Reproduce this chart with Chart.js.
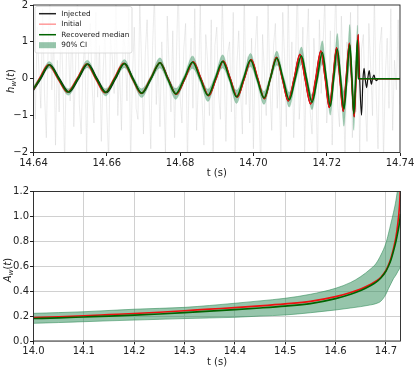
<!DOCTYPE html>
<html>
<head>
<meta charset="utf-8">
<script src="https://cdn.jsdelivr.net/npm/chart.js@4.4.1/dist/chart.umd.min.js"></script>
<style>
  html, body { margin: 0; padding: 0; background: #fff; }
  #wrap { position: relative; width: 415px; height: 368px; }
  canvas { position: absolute; left: 0; }
  #top { top: 0; }
  #bottom { top: 180px; }
</style>
</head>
<body>
<div id="wrap">
  <canvas id="top" width="415" height="180"></canvas>
  <canvas id="bottom" width="415" height="188"></canvas>
</div>
<script>
// ---- top panel: whitened strain h_w(t) ----

// whitened data (gray), one sample every 0.5 ms from 14.640 s
const dataStart = 14.64;
const dataStep = 0.0005;
const dataValues = [
  0.6, -1.1, 1.4, 0.2, -0.8, 1.9, -0.4, -1.6, 0.9, 2.2, -0.3, 1.2, -1.8, 0.5, -0.9, 1.6, 0.1, -2.3, 0.8, 1.1,
  -0.6, 1.7, -1.3, 0.4, 2.4, -0.7, -1.5, 0.3, 1.0, -2.1, 0.7, 1.5, -0.2, -1.2, 1.8, -0.5, 0.9, -1.7, 0.2, 1.3,
  -0.9, -2.2, 1.1, 0.6, -0.4, 2.5, -1.0, 0.3, -1.4, 1.2, 0.8, -0.6, 1.9, -2.4, 0.1, 1.4, -0.8, -1.1, 2.1, 0.4,
  -1.5, 0.7, 1.6, -0.3, -1.9, 0.9, 2.3, -0.7, 0.5, -1.3, 1.0, -0.2, -2.0, 1.7, 0.3, -0.9, 1.3, -1.6, 0.6, 2.6,
  -0.5, -1.2, 0.8, 1.5, -2.3, 0.2, 1.1, -0.8, 1.9, -1.4, -0.1, 2.0, -0.6, -1.8, 1.2, 0.5, -1.0, 1.6, -2.5, 0.9,
  1.4, -0.4, -1.1, 2.2, 0.3, -1.7, 0.7, 1.0, -0.9, 1.8, -2.1, 0.4, 1.3, -0.3, -1.5, 2.4, -0.7, 0.6, -1.2, 1.1,
  -1.9, 0.8, 1.7, -0.5, -2.6, 1.2, 0.2, -1.0, 2.1, -0.2, -1.4, 0.9, 1.5, -0.8, 0.3, -2.2, 1.8, 0.6, -1.3, 2.3,
  -0.6, 1.0, -1.6, 0.4, 2.7, -1.1, -0.3, 1.4, -2.0, 0.7, 1.9, -0.9, -1.5, 1.1, 0.1, -2.4, 1.6, -0.4, 0.9, 2.2,
  -1.2, -0.5, 1.3, -1.8, 0.6, 2.5, -0.7, -1.3, 1.7, 0.2, -2.3, 1.0, -0.1, 1.8, -1.6, 0.5, -0.9, 2.0, -2.1, 0.8,
  1.2, -0.6, -1.7, 1.5, 0.3, -1.0, 2.3, -0.4, -1.9, 0.9, 1.4, -2.2, 0.1, 1.1, -0.8, 1.9, -1.4, 0.5, -0.3, 1.6,
  -0.7
];

// injected waveform (black): extrema and zero crossings, then ringdown
const injected = [
  [14.6400, -0.31], [14.6420, 0], [14.6445, 0.38], [14.6471, 0], [14.6497, -0.36], [14.6523, 0],
  [14.6549, 0.40], [14.6574, 0], [14.6599, -0.38], [14.6624, 0], [14.6649, 0.42], [14.6672, 0],
  [14.6696, -0.40], [14.6721, 0], [14.6746, 0.43], [14.6768, 0], [14.6790, -0.42], [14.6813, 0],
  [14.6836, 0.46], [14.6857, 0], [14.6878, -0.46], [14.6898, 0], [14.6918, 0.48], [14.6937, 0],
  [14.6956, -0.50], [14.6975, 0], [14.6994, 0.52], [14.7012, 0], [14.7030, -0.54], [14.7046, 0],
  [14.7063, 0.58], [14.7079, 0], [14.7095, -0.60], [14.7111, 0], [14.7127, 0.66], [14.7141, 0],
  [14.7156, -0.68], [14.7170, 0], [14.7184, 0.75], [14.7196, 0], [14.7207, -0.78], [14.7217, 0],
  [14.7227, 0.84], [14.7236, 0], [14.7245, -0.88], [14.7253, 0], [14.7262, 0.96], [14.7268, 0],
  [14.7275, -1.03], [14.7280, 0], [14.7286, 1.20], [14.7290, 0], [14.7295, -0.99], [14.7299, 0],
  [14.7302, 0.28], [14.7305, 0], [14.7309, -0.24], [14.7312, 0], [14.7316, 0.22], [14.7319, 0],
  [14.7322, -0.15], [14.7325, 0], [14.7329, 0.10], [14.7332, 0], [14.7336, -0.05], [14.7340, 0],
  [14.7400, 0]
];

// initial guess (red)
const initial = [
  [14.6400, -0.29], [14.6416, 0], [14.6441, 0.38], [14.6467, 0], [14.6493, -0.36], [14.6519, 0],
  [14.6545, 0.40], [14.6570, 0], [14.6595, -0.38], [14.6620, 0], [14.6646, 0.42], [14.6670, 0],
  [14.6694, -0.40], [14.6719, 0], [14.6745, 0.43], [14.6767, 0], [14.6789, -0.42], [14.6813, 0],
  [14.6836, 0.46], [14.6857, 0], [14.6878, -0.46], [14.6898, 0], [14.6918, 0.48], [14.6937, 0],
  [14.6956, -0.50], [14.6975, 0], [14.6994, 0.52], [14.7012, 0], [14.7030, -0.54], [14.7046, 0],
  [14.7063, 0.58], [14.7079, 0], [14.7095, -0.60], [14.7111, 0], [14.7127, 0.66], [14.7141, 0],
  [14.7156, -0.68], [14.7170, 0], [14.7184, 0.75], [14.7196, 0], [14.7207, -0.78], [14.7217, 0],
  [14.7227, 0.84], [14.7236, 0], [14.7245, -0.88], [14.7253, 0], [14.7262, 0.96], [14.7268, 0],
  [14.7275, -1.03], [14.7280, 0], [14.7286, 1.20], [14.7288, 0], [14.7400, 0]
];

// recovered median (green)
const median = [
  [14.6400, -0.27], [14.6418, 0], [14.6443, 0.38], [14.6469, 0], [14.6495, -0.36], [14.6521, 0],
  [14.6547, 0.40], [14.6572, 0], [14.6597, -0.37], [14.6622, 0], [14.6648, 0.41], [14.6671, 0],
  [14.6695, -0.39], [14.6720, 0], [14.6745, 0.43], [14.6766, 0], [14.6788, -0.41], [14.6811, 0],
  [14.6834, 0.45], [14.6855, 0], [14.6876, -0.45], [14.6896, 0], [14.6916, 0.47], [14.6935, 0],
  [14.6954, -0.49], [14.6973, 0], [14.6992, 0.51], [14.7010, 0], [14.7029, -0.52], [14.7046, 0],
  [14.7064, 0.56], [14.7081, 0], [14.7098, -0.57], [14.7114, 0], [14.7131, 0.62], [14.7145, 0],
  [14.7160, -0.64], [14.7174, 0], [14.7188, 0.71], [14.7199, 0], [14.7210, -0.74], [14.7219, 0],
  [14.7229, 0.80], [14.7238, 0], [14.7247, -0.82], [14.7255, 0], [14.7263, 0.92], [14.7269, 0],
  [14.7274, -0.95], [14.7279, 0], [14.7284, 1.05], [14.7286, 0], [14.7400, 0]
];

// 90% credible band edges, at the median's times
const ciHigh = [
  -0.20, 0.07, 0.47, 0.07, -0.27, 0.07, 0.50, 0.07, -0.27, 0.07, 0.52, 0.08,
  -0.27, 0.08, 0.57, 0.09, -0.26, 0.09, 0.62, 0.10, -0.28, 0.10, 0.65, 0.10,
  -0.31, 0.10, 0.69, 0.11, -0.34, 0.11, 0.75, 0.12, -0.37, 0.13, 0.86, 0.14,
  -0.44, 0.15, 1.03, 0.18, -0.49, 0.22, 1.23, 0.25, -0.35, 0.30, 1.47, 0.35,
  -0.50, 0.35, 1.45, 0, 0
];
const ciLow = [
  -0.34, -0.07, 0.29, -0.07, -0.45, -0.07, 0.30, -0.07, -0.47, -0.07, 0.30, -0.08,
  -0.51, -0.08, 0.29, -0.09, -0.56, -0.09, 0.28, -0.10, -0.62, -0.10, 0.29, -0.10,
  -0.67, -0.10, 0.33, -0.11, -0.70, -0.11, 0.37, -0.12, -0.77, -0.13, 0.38, -0.14,
  -0.84, -0.15, 0.39, -0.18, -0.99, -0.22, 0.37, -0.25, -1.29, -0.30, 0.37, -0.35,
  -1.40, -0.35, 0.65, 0, 0
];

// ---- bottom panel: amplitude A_w(t) ----
const ampT = [14.00, 14.05, 14.10, 14.15, 14.20, 14.25, 14.30, 14.35, 14.40, 14.45, 14.50, 14.55, 14.60,
  14.63, 14.65, 14.67, 14.68, 14.69, 14.70, 14.705, 14.71, 14.715, 14.72, 14.724, 14.727, 14.729];
const ampInitial = [0.188, 0.195, 0.203, 0.212, 0.221, 0.231, 0.243, 0.256, 0.268, 0.282, 0.298, 0.318, 0.356,
  0.390, 0.418, 0.455, 0.480, 0.512, 0.566, 0.610, 0.665, 0.740, 0.835, 0.955, 1.085, 1.250];
const ampMedian = [0.180, 0.186, 0.193, 0.200, 0.208, 0.217, 0.228, 0.240, 0.252, 0.265, 0.280, 0.300, 0.340,
  0.375, 0.405, 0.445, 0.470, 0.505, 0.560, 0.600, 0.650, 0.720, 0.800, 0.880, 0.950, 1.020];
const ampHigh = [0.222, 0.228, 0.235, 0.245, 0.255, 0.262, 0.270, 0.285, 0.303, 0.322, 0.343, 0.375, 0.423,
  0.470, 0.517, 0.580, 0.620, 0.690, 0.785, 0.860, 0.945, 1.030, 1.130, 1.250, 1.400, 1.600];
const ampLow = [0.142, 0.148, 0.155, 0.162, 0.168, 0.174, 0.180, 0.185, 0.190, 0.200, 0.209, 0.227, 0.249,
  0.265, 0.276, 0.290, 0.300, 0.320, 0.375, 0.420, 0.460, 0.500, 0.530, 0.560, 0.580, 0.600];

const legendItems = [
  { label: 'Injected', color: '#222222', kind: 'line' },
  { label: 'Initial', color: '#ff9a9a', kind: 'line' },
  { label: 'Recovered median', color: '#006400', kind: 'line' },
  { label: '90% CI', color: 'rgba(46,139,87,0.5)', kind: 'box' }
];

Chart.defaults.font.family = '"DejaVu Sans"';
Chart.defaults.font.size = 10;
Chart.defaults.color = '#222';

const pts = arr => arr.map(([x, y]) => ({ x, y }));
const onTimes = (times, vals) => times.map((t, i) => ({ x: t, y: vals[i] }));
const minus = v => (v < 0 ? '\u2212' + Math.abs(v) : String(v));

// box round the plot area, like matplotlib spines
const frame = {
  id: 'frame',
  afterDraw(chart) {
    const { ctx, chartArea: a } = chart;
    ctx.save();
    ctx.strokeStyle = '#222';
    ctx.lineWidth = 0.9;
    ctx.strokeRect(a.left, a.top, a.right - a.left, a.bottom - a.top);
    ctx.restore();
  }
};

// y label with a subscript w: h_w(t) / A_w(t)
const mathLabel = {
  id: 'mathLabel',
  afterDraw(chart, args, opts) {
    const ctx = chart.ctx;
    const parts = [
      { t: opts.sym, font: 'italic 10px "DejaVu Sans"', dy: 0 },
      { t: 'w', font: 'italic 7px "DejaVu Sans"', dy: 2 },
      { t: '(', font: '10px "DejaVu Sans"', dy: 0 },
      { t: 't', font: 'italic 10px "DejaVu Sans"', dy: 0 },
      { t: ')', font: '10px "DejaVu Sans"', dy: 0 }
    ];
    ctx.save();
    let total = 0;
    parts.forEach(p => { ctx.font = p.font; p.w = ctx.measureText(p.t).width; total += p.w; });
    ctx.translate(opts.x, opts.y);
    ctx.rotate(-Math.PI / 2);
    ctx.fillStyle = '#222';
    let x = -total / 2;
    parts.forEach(p => { ctx.font = p.font; ctx.fillText(p.t, x, 3.5 + p.dy); x += p.w; });
    ctx.restore();
  }
};

// legend box in the upper left of the top panel
const insideLegend = {
  id: 'insideLegend',
  afterDraw(chart) {
    const ctx = chart.ctx;
    ctx.save();
    ctx.beginPath();
    ctx.roundRect(35, 6.5, 97, 46.5, 2);
    ctx.fillStyle = 'rgba(255,255,255,0.8)';
    ctx.fill();
    ctx.strokeStyle = '#d4d4d4';
    ctx.lineWidth = 0.8;
    ctx.stroke();
    ctx.font = '7.3px "DejaVu Sans"';
    ctx.textBaseline = 'middle';
    legendItems.forEach((item, i) => {
      const y = 13.7 + i * 10.5;
      if (item.kind === 'line') {
        ctx.strokeStyle = item.color;
        ctx.lineWidth = 1.5;
        ctx.beginPath();
        ctx.moveTo(39, y);
        ctx.lineTo(56, y);
        ctx.stroke();
      } else {
        ctx.fillStyle = item.color;
        ctx.fillRect(39, y - 3, 17, 6);
      }
      ctx.fillStyle = '#222';
      ctx.fillText(item.label, 61.3, y);
    });
    ctx.restore();
  }
};

const fitY = w => s => { s.width = w; s.paddingTop = 0; s.paddingBottom = 0; };
const fitX = h => s => { s.height = h; s.paddingLeft = 0; s.paddingRight = 0; };

const bandColor = 'rgba(46,139,87,0.45)';

new Chart(document.getElementById('top'), {
  type: 'line',
  data: {
    datasets: [
      {
        data: dataValues.map((v, i) => ({ x: dataStart + i * dataStep, y: v })),
        borderColor: 'rgba(200,200,200,0.35)', borderWidth: 1, pointRadius: 0, tension: 0, order: 6
      },
      {
        data: onTimes(median.map(p => p[0]), ciLow),
        borderColor: 'rgba(46,139,87,0.3)', borderWidth: 0.5, pointRadius: 0,
        cubicInterpolationMode: 'monotone', fill: false, order: 5
      },
      {
        data: onTimes(median.map(p => p[0]), ciHigh),
        borderColor: 'rgba(46,139,87,0.3)', borderWidth: 0.5, pointRadius: 0,
        cubicInterpolationMode: 'monotone', fill: 1, backgroundColor: bandColor, order: 4
      },
      {
        data: pts(injected), borderColor: '#111', borderWidth: 1.2, pointRadius: 0,
        cubicInterpolationMode: 'monotone', order: 3
      },
      {
        data: pts(initial), borderColor: '#ee1111', borderWidth: 1.6, pointRadius: 0,
        cubicInterpolationMode: 'monotone', order: 2
      },
      {
        data: pts(median), borderColor: '#006400', borderWidth: 1.6, pointRadius: 0,
        cubicInterpolationMode: 'monotone', order: 1
      }
    ]
  },
  options: {
    responsive: false,
    animation: false,
    devicePixelRatio: 1,
    layout: { padding: { left: 0, right: 15, top: 5, bottom: 0 } },
    plugins: {
      legend: { display: false },
      tooltip: { enabled: false },
      mathLabel: { sym: 'h', x: 10.5, y: 81 }
    },
    scales: {
      x: {
        type: 'linear', min: 14.64, max: 14.74,
        afterFit: fitX(27.5),
        border: { display: false },
        grid: { drawOnChartArea: false, tickLength: 3.5, tickColor: '#222' },
        ticks: { stepSize: 0.02, maxRotation: 0, autoSkip: false, padding: 1, callback: v => v.toFixed(2) },
        title: { display: true, text: 't (s)', padding: { top: 0, bottom: 1 } }
      },
      y: {
        min: -2, max: 2,
        afterFit: fitY(33.5),
        border: { display: false },
        grid: { drawOnChartArea: false, tickLength: 3.5, tickColor: '#222' },
        ticks: { stepSize: 1, padding: 2, callback: v => minus(v) }
      }
    }
  },
  plugins: [frame, mathLabel, insideLegend]
});

new Chart(document.getElementById('bottom'), {
  type: 'line',
  data: {
    datasets: [
      {
        data: onTimes(ampT, ampLow), borderColor: 'rgba(46,139,87,0.7)', borderWidth: 0.8,
        pointRadius: 0, cubicInterpolationMode: 'monotone', fill: false, order: 5
      },
      {
        data: onTimes(ampT, ampHigh), borderColor: 'rgba(46,139,87,0.7)', borderWidth: 0.8,
        pointRadius: 0, cubicInterpolationMode: 'monotone', fill: 0,
        backgroundColor: 'rgba(46,139,87,0.5)', order: 4
      },
      {
        data: onTimes(ampT, ampInitial), borderColor: '#ee1111', borderWidth: 1.6, pointRadius: 0,
        cubicInterpolationMode: 'monotone', order: 2
      },
      {
        data: onTimes(ampT, ampMedian), borderColor: '#006400', borderWidth: 1.6, pointRadius: 0,
        cubicInterpolationMode: 'monotone', order: 1
      }
    ]
  },
  options: {
    responsive: false,
    animation: false,
    devicePixelRatio: 1,
    layout: { padding: { left: 0, right: 14.5, top: 11.5, bottom: 0 } },
    plugins: {
      legend: { display: false },
      tooltip: { enabled: false },
      mathLabel: { sym: 'A', x: 7.5, y: 90 }
    },
    scales: {
      x: {
        type: 'linear', min: 14.0, max: 14.729,
        afterFit: fitX(27),
        border: { display: false },
        grid: { color: '#d0d0d0', tickLength: 3.5, tickColor: '#222' },
        ticks: { stepSize: 0.1, includeBounds: false, maxRotation: 0, autoSkip: false, padding: 1,
          callback: v => v.toFixed(1) },
        afterBuildTicks: s => { s.ticks = s.ticks.filter(t => Math.abs(t.value * 10 - Math.round(t.value * 10)) < 1e-6); },
        title: { display: true, text: 't (s)', padding: { top: 0, bottom: 0 } }
      },
      y: {
        min: 0, max: 1.2,
        afterFit: fitY(33.5),
        border: { display: false },
        grid: { color: '#d0d0d0', tickLength: 3.5, tickColor: '#222' },
        ticks: { stepSize: 0.2, padding: 1, callback: v => v.toFixed(1) }
      }
    }
  },
  plugins: [frame, mathLabel]
});
</script>
</body>
</html>
